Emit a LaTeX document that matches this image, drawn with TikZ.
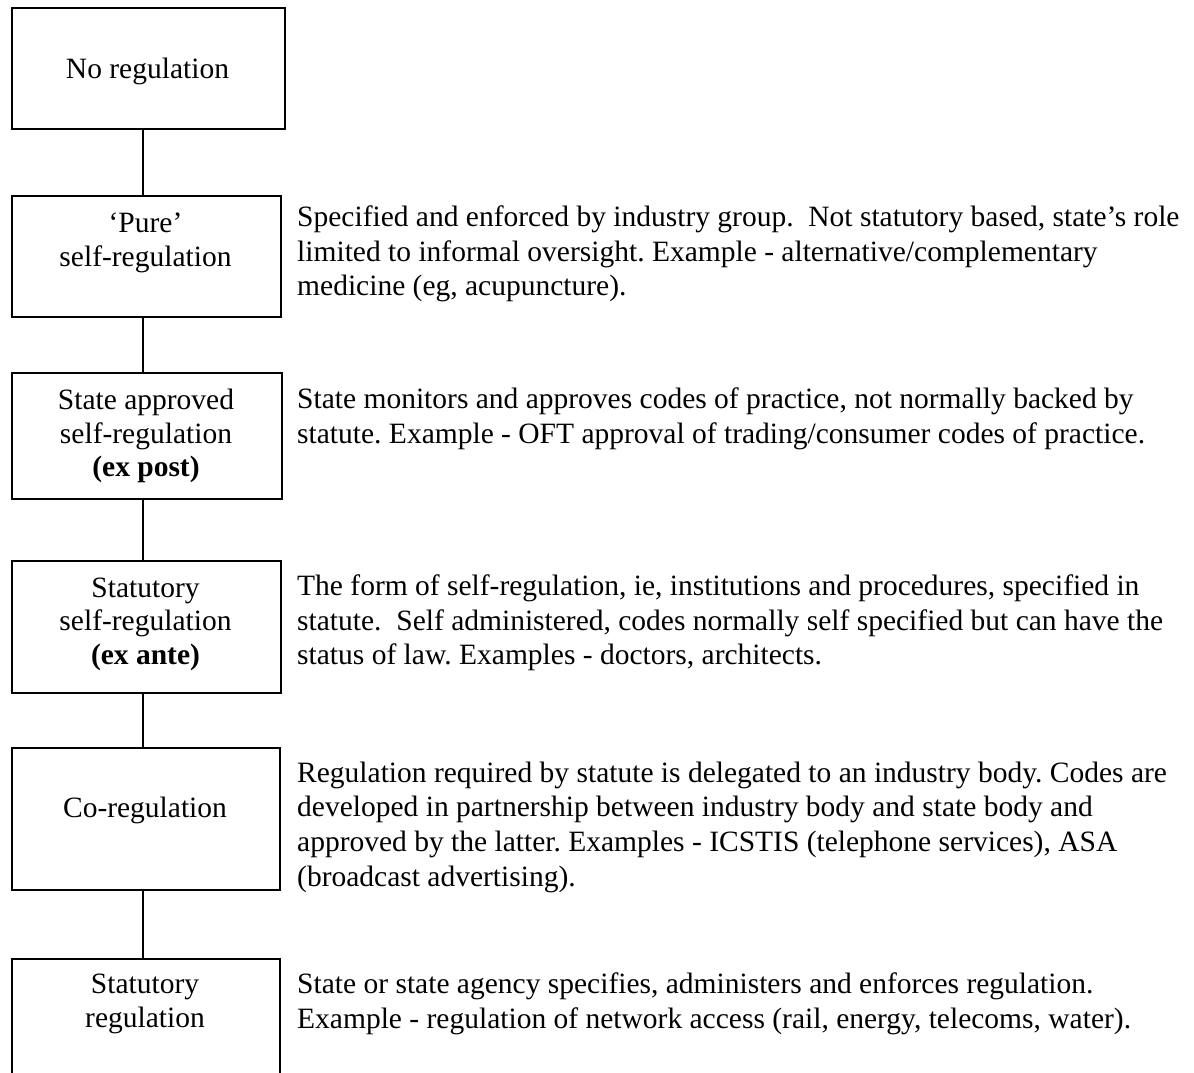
\documentclass[tikz,border=0pt]{standalone}
\usepackage{fontspec}
\setmainfont{Liberation Serif}
\frenchspacing
\usetikzlibrary{positioning}
\begin{document}
\begin{tikzpicture}[x=1pt,y=-1pt,
  regbox/.style={draw=black, line width=1.6pt, inner sep=0pt, anchor=north west},
  boxtext/.style={align=center, inner sep=0pt, font=\fontsize{29.5}{33.5}\selectfont},
  desc/.style={align=left, inner sep=0pt, anchor=west, font=\fontsize{29.5}{34.7}\selectfont},
  link/.style={draw=black, line width=1.6pt}]
\useasboundingbox (0,0) rectangle (1194,1072);
\clip (0,0) rectangle (1194,1072);

% spine along which the boxes are chained
\coordinate (spine) at (143,0);

% the six regulatory forms
\node[regbox, minimum width=273, minimum height=121] (b1) at (11,7) {};
\node[regbox, minimum width=269, minimum height=121] (b2) at (11,195) {};
\node[regbox, minimum width=270, minimum height=126] (b3) at (11,372) {};
\node[regbox, minimum width=269, minimum height=132] (b4) at (11,560) {};
\node[regbox, minimum width=268, minimum height=142] (b5) at (11,747) {};
\node[regbox, minimum width=268, minimum height=140] (b6) at (11,958) {};

\node[boxtext] (t1) at (147.5,71) {No regulation};
\node[boxtext] (t2) at (145.5,243) {‘Pure’\\self-regulation};
\node[boxtext] (t3) at (146,436) {State approved\\self-regulation\\\textbf{(ex post)}};
\node[boxtext] (t4) at (145.5,624) {Statutory\\self-regulation\\\textbf{(ex ante)}};
\node[boxtext] (t5) at (145,810) {Co-regulation};
\node[boxtext] (t6) at (145,1004) {Statutory\\regulation};

% connectors
\draw[link] (b1.south -| spine) -- (b2.north -| spine);
\draw[link] (b2.south -| spine) -- (b3.north -| spine);
\draw[link] (b3.south -| spine) -- (b4.north -| spine);
\draw[link] (b4.south -| spine) -- (b5.north -| spine);
\draw[link] (b5.south -| spine) -- (b6.north -| spine);

% descriptions
\node[desc] (d2) at (297,254) {Specified and enforced by industry group.\ \ Not statutory based, state’s role\\limited to informal oversight. Example - alternative/complementary\\medicine (eg, acupuncture).};
\node[desc] (d3) at (297,419) {State monitors and approves codes of practice, not normally backed by\\statute. Example - OFT approval of trading/consumer codes of practice.};
\node[desc] (d4) at (297,623) {The form of self-regulation, ie, institutions and procedures, specified in\\statute.\ \ Self administered, codes normally self specified but can have the\\status of law. Examples - doctors, architects.};
\node[desc] (d5) at (297,827) {Regulation required by statute is delegated to an industry body. Codes are\\developed in partnership between industry body and state body and\\approved by the latter. Examples - ICSTIS (telephone services), ASA\\(broadcast advertising).};
\node[desc] (d6) at (297,1004) {State or state agency specifies, administers and enforces regulation.\\Example - regulation of network access (rail, energy, telecoms, water).};
\end{tikzpicture}
\end{document}
